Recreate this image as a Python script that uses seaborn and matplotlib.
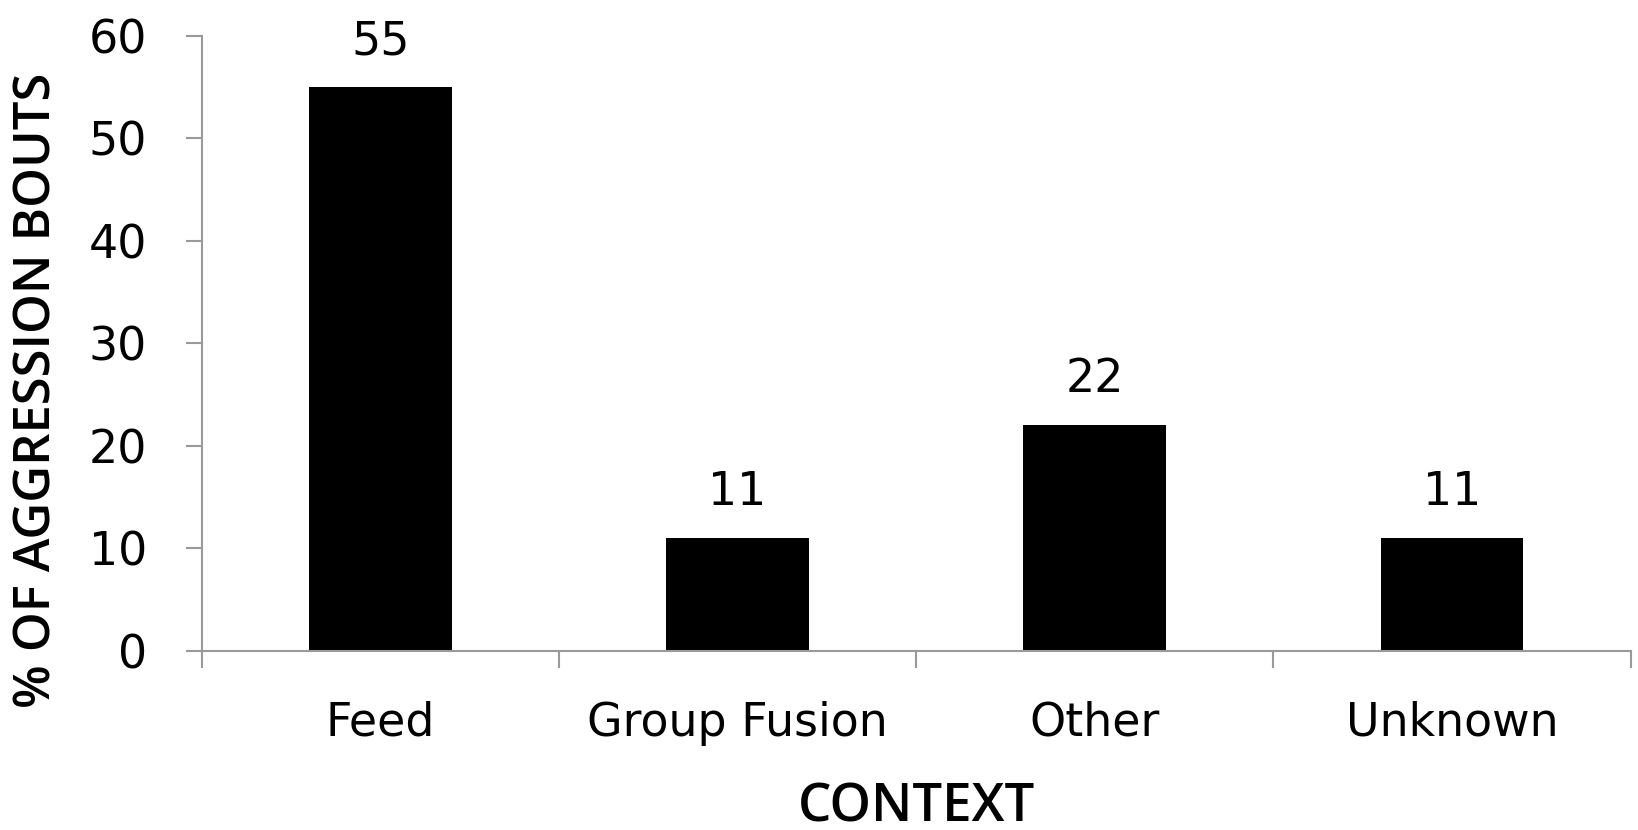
import matplotlib
matplotlib.use("Agg")
import matplotlib.pyplot as plt
import seaborn as sns

# Share of aggression bouts by context
contexts = ["Feed", "Group Fusion", "Other", "Unknown"]
percent = [55, 11, 22, 11]
y_ticks = [0, 10, 20, 30, 40, 50, 60]

sns.set_theme(style="white")
plt.rcParams["font.family"] = ["DejaVu Sans"]
plt.rcParams["text.color"] = "black"
plt.rcParams["axes.labelcolor"] = "black"

fig = plt.figure(figsize=(16.38, 8.30), dpi=100)
ax = fig.add_axes([0.1231, 0.2157, 0.8724, 0.7413])

sns.barplot(x=contexts, y=percent, color="black", width=0.4,
            saturation=1, ax=ax, edgecolor="black", linewidth=0)

for i, v in enumerate(percent):
    ax.annotate(f"{v}", xy=(i, v), xytext=(0, 16.5), textcoords="offset points",
                ha="center", va="bottom", fontsize=33, color="black")

ax.set_ylim(0, 60)
ax.set_yticks(y_ticks)
ax.set_yticklabels([str(t) for t in y_ticks], fontsize=33)
ax.set_xlim(-0.5, len(contexts) - 0.5)

# category boundaries as major ticks, names as minor ticks
ax.set_xticks([i - 0.5 for i in range(len(contexts) + 1)])
ax.set_xticklabels([])
ax.set_xticks(range(len(contexts)), minor=True)
ax.set_xticklabels(contexts, minor=True, fontsize=33)

spine_col = "#9a9a9a"
for side in ["top", "right"]:
    ax.spines[side].set_visible(False)
for side in ["left", "bottom"]:
    ax.spines[side].set_color(spine_col)
    ax.spines[side].set_linewidth(1.5)

ax.tick_params(axis="y", which="major", direction="out", length=11.5, width=1.5,
               color=spine_col, labelcolor="black", pad=28, left=True)
ax.tick_params(axis="x", which="major", direction="out", length=12.5, width=1.5,
               color=spine_col, bottom=True)
ax.tick_params(axis="x", which="minor", length=0, pad=36, labelcolor="black")

ax.set_ylabel("% OF AGGRESSION BOUTS", fontsize=36.5, fontweight="semibold",
              family="Open Sans", va="center")
ax.yaxis.set_label_coords(-0.115, 0.424)
ax.set_xlabel("CONTEXT", fontsize=38, fontweight="semibold",
              family="Open Sans", va="center")
ax.xaxis.set_label_coords(0.5, -0.255)

fig.savefig("out.png", dpi=100)
